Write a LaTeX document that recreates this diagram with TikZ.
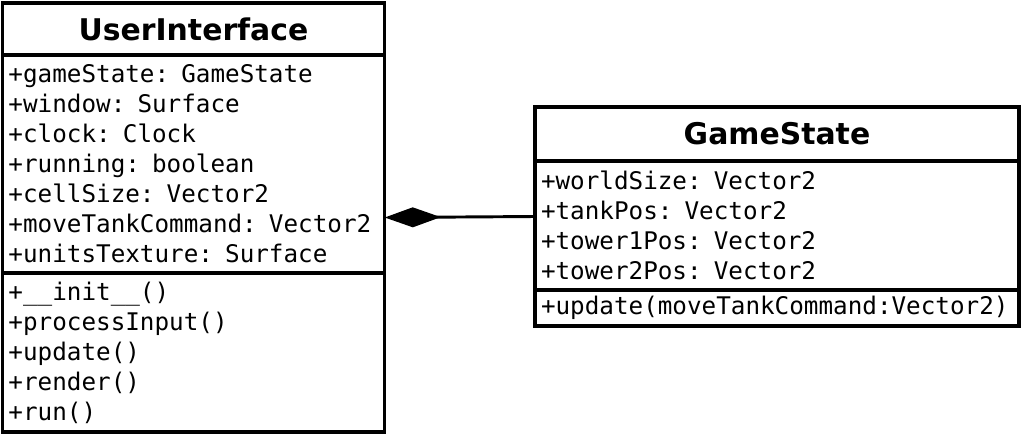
\documentclass[tikz,border=0pt]{standalone}
\usepackage{fontspec}
\setmainfont{DejaVu Sans}
\setmonofont[WordSpace={1,0,0}]{DejaVu Sans Mono}
\usetikzlibrary{positioning,fit,arrows.meta}

\begin{document}
\begin{tikzpicture}[x=0.75pt, y=-0.75pt,
    classpart/.style={draw, line width=2.4pt, outer sep=0pt, inner xsep=4.5pt, inner ysep=0pt},
    classname/.style={classpart, align=center, font=\fontsize{22.4}{27}\selectfont\bfseries},
    members/.style={classpart, align=left, font=\fontsize{18.2}{22.5}\selectfont\ttfamily}]
    \useasboundingbox (0,0) rectangle (1024,436);

    % Class UserInterface
    \node[classname, minimum width=286.5pt, minimum height=39pt] (uiname) at (193.5,29) {UserInterface};
    \node[members, text width=277.5pt, minimum height=163.5pt, below=0pt of uiname] (uiattr)
        {+gameState: GameState\\+window: Surface\\+clock: Clock\\+running: boolean\\+cellSize: Vector2\\+moveTankCommand: Vector2\\+unitsTexture: Surface};
    \node[members, text width=277.5pt, minimum height=119.25pt, below=0pt of uiattr] (uiops)
        {+\_\_init\_\_()\\+processInput()\\+update()\\+render()\\+run()};
    \node[fit=(uiname)(uiops), inner sep=0pt] (ui) {};

    % Class GameState
    \node[classname, minimum width=363pt, minimum height=40.5pt] (gsname) at (777,134) {GameState};
    \node[members, text width=354pt, minimum height=96.75pt, below=0pt of gsname] (gsattr)
        {+worldSize: Vector2\\+tankPos: Vector2\\+tower1Pos: Vector2\\+tower2Pos: Vector2};
    \node[members, text width=354pt, minimum height=27pt, below=0pt of gsattr] (gsops)
        {+update(moveTankCommand:Vector2)};
    \node[fit=(gsname)(gsops), inner sep=0pt] (gs) {};

    % Composition
    \draw[line width=2.2pt, -{Diamond[length=42pt, width=15pt]}] (gs.west) -- (ui.east);
\end{tikzpicture}
\end{document}
